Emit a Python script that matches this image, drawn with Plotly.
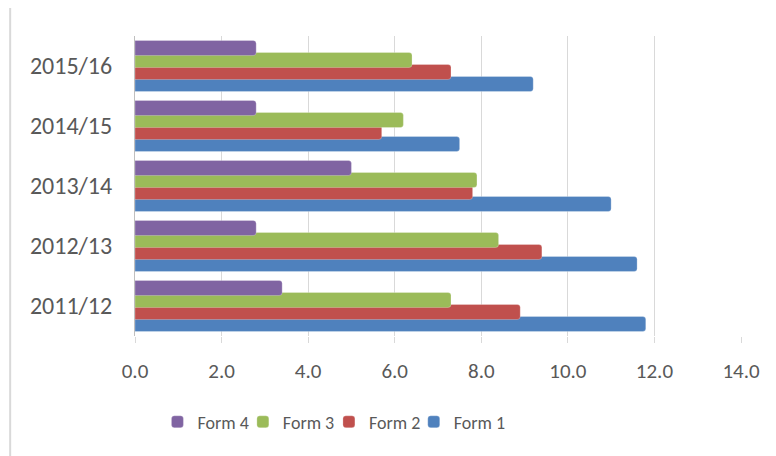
import plotly.graph_objects as go

years = ["2011/12", "2012/13", "2013/14", "2014/15", "2015/16"]
form1 = [11.8, 11.6, 11.0, 7.5, 9.2]
form2 = [8.9, 9.4, 7.8, 5.7, 7.3]
form3 = [7.3, 8.4, 7.9, 6.2, 6.4]
form4 = [3.4, 2.8, 5.0, 2.8, 2.8]

x_ticks = [0, 2, 4, 6, 8, 10, 12, 14]

FONT = "Carlito, Calibri, 'Liberation Sans', sans-serif"
GREY = "#595959"

# name, values, colour, bar offset, legend id, legend x
series = [
    ("Form 1", form1, "#4f81bd", -0.425, "legend4", 0.460),
    ("Form 2", form2, "#c0504d", -0.225, "legend3", 0.320),
    ("Form 3", form3, "#9bbb59", -0.025, "legend2", 0.178),
    ("Form 4", form4, "#8064a2", 0.175, "legend", 0.037),
]

fig = go.Figure()
legends = {}
for name, values, color, off, leg, lx in series:
    fig.add_trace(
        go.Bar(
            name=name,
            y=years,
            x=values,
            orientation="h",
            marker_color=color,
            marker_line=dict(color="rgba(255,255,255,0.5)", width=0.5),
            width=0.25,
            offset=off,
            legend=leg,
        )
    )
    legends[leg] = dict(
        x=lx,
        xanchor="left",
        y=-0.287,
        yanchor="middle",
        orientation="h",
        font=dict(size=18, color=GREY),
        itemwidth=30,
        bgcolor="rgba(0,0,0,0)",
    )

# page has an 8px body margin, so margins are shifted to compensate
fig.update_layout(
    width=776,
    height=456,
    barmode="overlay",
    barcornerradius=3,
    plot_bgcolor="white",
    paper_bgcolor="white",
    margin=dict(l=127, r=43, t=28, b=128),
    font=dict(family=FONT, color=GREY),
    showlegend=True,
    shapes=[
        dict(
            type="rect",
            xref="paper",
            yref="paper",
            x0=-0.206,
            x1=1.2,
            y0=-0.6,
            y1=1.097,
            line=dict(color="#d9d9d9", width=2),
            layer="below",
        )
    ],
    **legends,
)

fig.update_xaxes(
    range=[0, 14],
    tickvals=x_ticks,
    tickformat=".1f",
    showgrid=True,
    gridcolor="#d9d9d9",
    gridwidth=1,
    zeroline=False,
    ticks="outside",
    ticklen=6,
    tickcolor="#d9d9d9",
    ticklabelstandoff=10,
    tickfont=dict(size=21, color=GREY),
    showline=False,
)

fig.update_yaxes(
    categoryorder="array",
    categoryarray=years,
    range=[-0.5, 4.5],
    showgrid=False,
    showline=True,
    linecolor="#bfbfbf",
    linewidth=1,
    ticks="",
    ticklabelstandoff=17,
    tickfont=dict(size=24, color=GREY),
)

fig.write_html("out.html")
